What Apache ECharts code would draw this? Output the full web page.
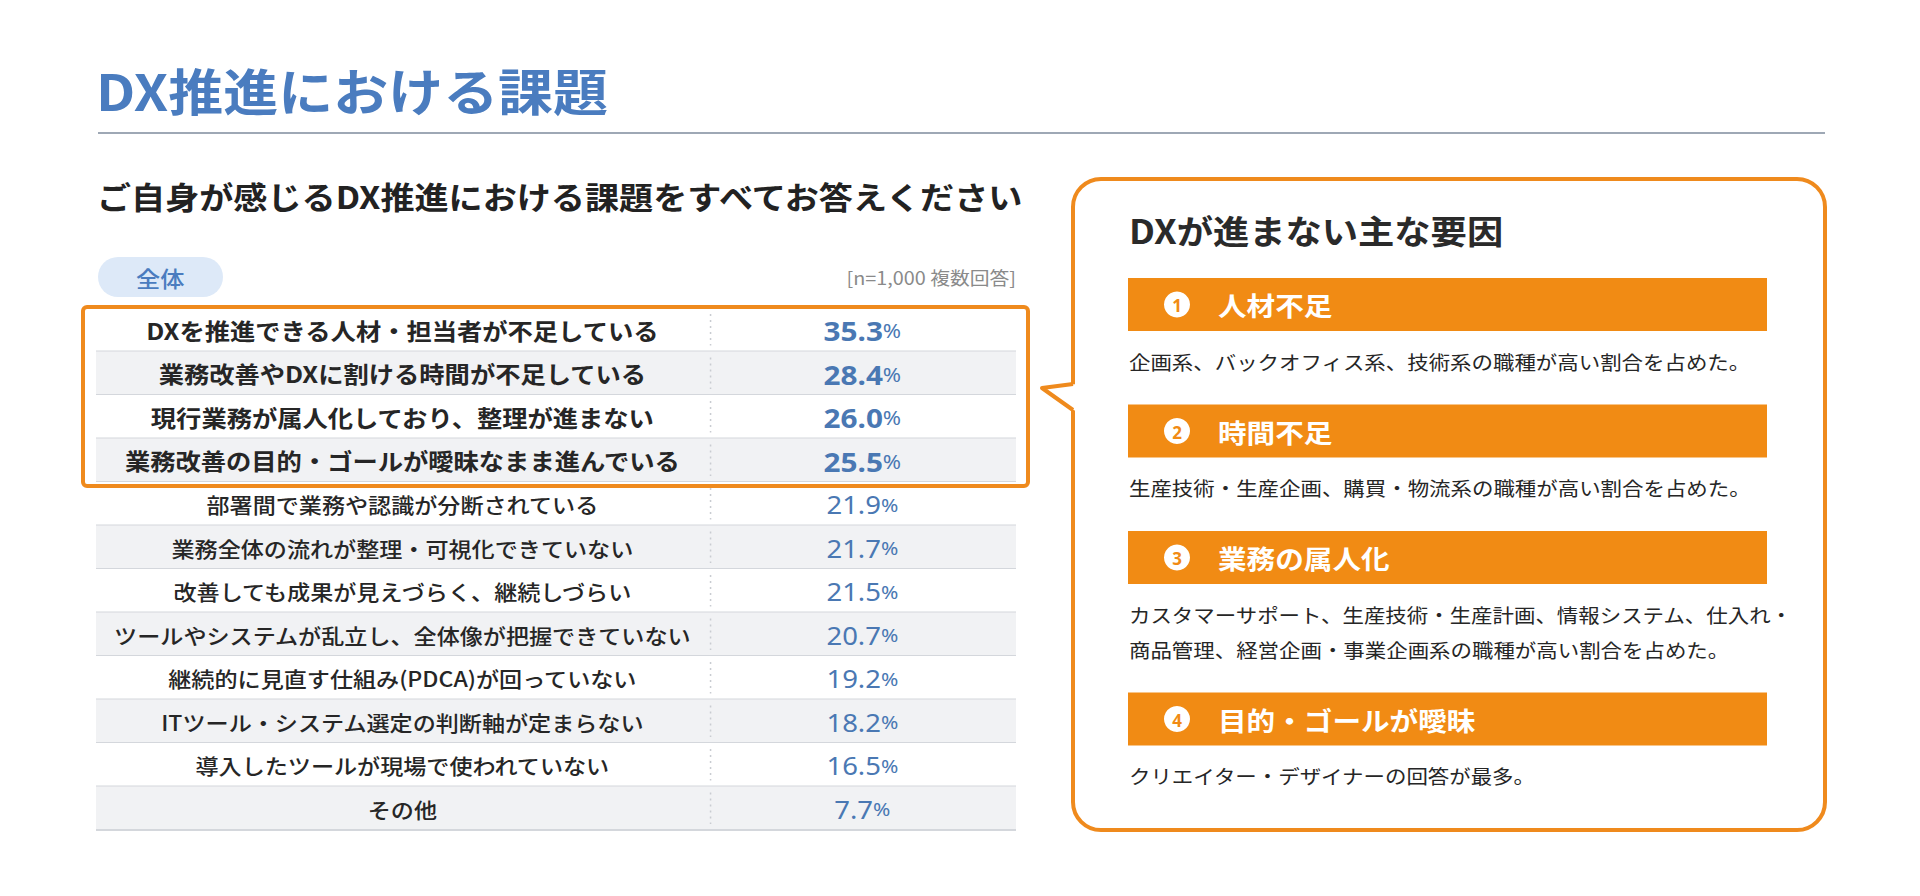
<!DOCTYPE html>
<html lang="ja">
<head>
<meta charset="UTF-8">
<title>DX推進における課題</title>
<script src="https://cdn.jsdelivr.net/npm/echarts@6.0.0/dist/echarts.min.js"></script>
<style>
  html, body { margin: 0; padding: 0; background: #fff; }
  #main { width: 1920px; height: 896px; }
</style>
</head>
<body>
<div id="main"></div>
<script>
// 設問の選択肢と回答率(%)
const categories = [
  'DXを推進できる人材・担当者が不足している',
  '業務改善やDXに割ける時間が不足している',
  '現行業務が属人化しており、整理が進まない',
  '業務改善の目的・ゴールが曖昧なまま進んでいる',
  '部署間で業務や認識が分断されている',
  '業務全体の流れが整理・可視化できていない',
  '改善しても成果が見えづらく、継続しづらい',
  'ツールやシステムが乱立し、全体像が把握できていない',
  '継続的に見直す仕組み(PDCA)が回っていない',
  'ITツール・システム選定の判断軸が定まらない',
  '導入したツールが現場で使われていない',
  'その他'
];
const values = [35.3, 28.4, 26.0, 25.5, 21.9, 21.7, 21.5, 20.7, 19.2, 18.2, 16.5, 7.7];
const highlightCount = 4;

// 右側の「主な要因」
const factorTitles = ['人材不足', '時間不足', '業務の属人化', '目的・ゴールが曖昧'];
const factorNotes = [
  ['企画系、バックオフィス系、技術系の職種が高い割合を占めた。'],
  ['生産技術・生産企画、購買・物流系の職種が高い割合を占めた。'],
  ['カスタマーサポート、生産技術・生産計画、情報システム、仕入れ・',
   '商品管理、経営企画・事業企画系の職種が高い割合を占めた。'],
  ['クリエイター・デザイナーの回答が最多。']
];

const JP = '"Noto Sans CJK JP", "Noto Sans", sans-serif';
const NUM = '"Noto Sans", "Open Sans", sans-serif';
const SX = 1.1;          // 元画像の横長の文字幅に合わせる
const BLUE = '#4a7cbf';
const VALUE_BLUE = '#4a78b3';
const ORANGE = '#f18b14';
const BORDER = '#ef8a1d';
const INK = '#262626';

function txt(x, y, text, size, opts) {
  opts = opts || {};
  const align = opts.align || 'left';
  return {
    type: 'text', x: x, y: y, scaleX: SX,
    style: {
      text: text, x: 0, y: 0,
      fontSize: size, fontWeight: opts.weight || 'normal',
      fontFamily: opts.family || JP,
      fill: opts.color || INK,
      align: align, textAlign: align,
      verticalAlign: 'middle', textVerticalAlign: 'middle'
    }
  };
}

// 表の1行 (背景・罫線・項目名・割合)
function renderRow(params, api) {
  const v = api.value(0);
  const i = api.value(1);
  const c = api.coord([0, i]);
  const h = api.size([0, 1])[1];
  const cs = params.coordSys;
  const top = c[1] - h / 2;
  const strong = i < highlightCount;
  const divX = cs.x + cs.width * 0.668;
  return {
    type: 'group',
    children: [
      { type: 'rect', shape: { x: cs.x, y: top, width: cs.width, height: h },
        style: { fill: i % 2 ? '#f1f2f4' : '#ffffff' } },
      { type: 'line', shape: { x1: cs.x, y1: top + h, x2: cs.x + cs.width, y2: top + h },
        style: { stroke: '#d4d7dc', lineWidth: 2 } },
      { type: 'line', shape: { x1: divX, y1: top + 6, x2: divX, y2: top + h - 6 },
        style: { stroke: '#c9ccd1', lineWidth: 1.5, lineDash: [2, 4] } },
      {
        type: 'text', x: cs.x + cs.width * 0.333, y: c[1], scaleX: SX,
        style: {
          text: categories[i], x: 0, y: 0,
          fontSize: strong ? 23 : 21, fontWeight: strong ? 'bold' : 500, fontFamily: JP,
          fill: INK, align: 'center', textAlign: 'center',
          verticalAlign: 'middle', textVerticalAlign: 'middle'
        }
      },
      {
        type: 'text', x: cs.x + cs.width * 0.833, y: c[1] + 1, scaleX: SX,
        style: {
          text: '{n|' + v.toFixed(1) + '}{p|%}', x: 0, y: 0,
          align: 'center', textAlign: 'center',
          verticalAlign: 'middle', textVerticalAlign: 'middle',
          rich: {
            n: { fontSize: strong ? 27 : 25, fontWeight: strong ? 'bold' : 'normal',
                 fontFamily: NUM, fill: VALUE_BLUE },
            p: { fontSize: strong ? 20 : 19, fontFamily: NUM, fill: VALUE_BLUE }
          }
        }
      }
    ]
  };
}

// 上位項目を囲むオレンジ枠
function renderHighlight(params, api) {
  const a = api.coord([0, api.value(1)]);
  const b = api.coord([0, api.value(2)]);
  const h = api.size([0, 1])[1];
  const cs = params.coordSys;
  return {
    type: 'rect',
    shape: { x: cs.x - 13, y: a[1] - h / 2 - 1, width: cs.width + 25, height: b[1] - a[1] + h + 5, r: 4 },
    style: { fill: 'none', stroke: BORDER, lineWidth: 4 }
  };
}

// 右パネル
const px0 = 1073, py0 = 179, pw = 752, ph = 651;
const panel = [
  { type: 'rect', shape: { x: px0, y: py0, width: pw, height: ph, r: 28 },
    style: { fill: '#fff', stroke: BORDER, lineWidth: 4 } },
  { type: 'polygon', shape: { points: [[px0 + 4, 384], [1040, 388], [px0 + 4, 412]] },
    style: { fill: '#fff' } },
  { type: 'polyline', shape: { points: [[px0, 384], [1042, 388], [px0, 410]] },
    style: { stroke: BORDER, lineWidth: 4, fill: 'none', lineJoin: 'round' } },
  txt(1129, 230, 'DXが進まない主な要因', 33, { weight: 'bold', color: '#2a2a2a' })
];
let fy = 278;
factorTitles.forEach(function (t, k) {
  panel.push({ type: 'rect', shape: { x: 1128, y: fy, width: 639, height: 53 }, style: { fill: ORANGE } });
  panel.push({ type: 'circle', shape: { cx: 1177, cy: fy + 26.5, r: 13 }, style: { fill: '#fff' } });
  panel.push({
    type: 'text', x: 1177, y: fy + 27.5,
    style: { text: String(k + 1), x: 0, y: 0, fontSize: 17, fontWeight: 'bold', fontFamily: NUM,
             fill: ORANGE, align: 'center', textAlign: 'center',
             verticalAlign: 'middle', textVerticalAlign: 'middle' }
  });
  panel.push(txt(1218, fy + 27, t, 26, { weight: 'bold', color: '#fff' }));
  factorNotes[k].forEach(function (line, j) {
    panel.push(txt(1129, fy + 83 + j * 35, line, 19.5, { color: INK }));
  });
  fy += 83 + (factorNotes[k].length - 1) * 35 + 43.5;
});

const chart = echarts.init(document.getElementById('main'), null, { renderer: 'svg' });
chart.setOption({
  backgroundColor: '#fff',
  animation: false,
  graphic: {
    elements: [
      txt(96, 89, 'DX推進における課題', 50, { weight: 'bold', color: BLUE }),
      { type: 'line', shape: { x1: 98, y1: 133, x2: 1825, y2: 133 },
        style: { stroke: '#9ea8b5', lineWidth: 2 } },
      txt(97, 195, 'ご自身が感じるDX推進における課題をすべてお答えください', 31, { weight: 'bold', color: '#222' }),
      { type: 'rect', shape: { x: 98, y: 257, width: 125, height: 40, r: 20 },
        style: { fill: '#dde9f8' } },
      txt(136, 277, '全体', 22, { color: BLUE, weight: 500 }),
      txt(1016, 277, '[n=1,000 複数回答]', 18, { color: '#8a8a8a', align: 'right' })
    ].concat(panel)
  },
  grid: { left: 96, top: 308, width: 920, height: 522 },
  xAxis: { type: 'value', min: 0, max: 100, show: false },
  yAxis: { type: 'category', data: categories, inverse: true, show: false },
  series: [
    {
      type: 'custom', name: '回答率', renderItem: renderRow, silent: true, z: 2,
      encode: { x: 0, y: 1 },
      data: values.map(function (v, i) { return [v, i]; })
    },
    {
      type: 'custom', name: '上位', renderItem: renderHighlight, silent: true, z: 3,
      encode: { x: 0, y: [1, 2] },
      data: [[0, 0, highlightCount - 1]]
    }
  ]
});
</script>
</body>
</html>
